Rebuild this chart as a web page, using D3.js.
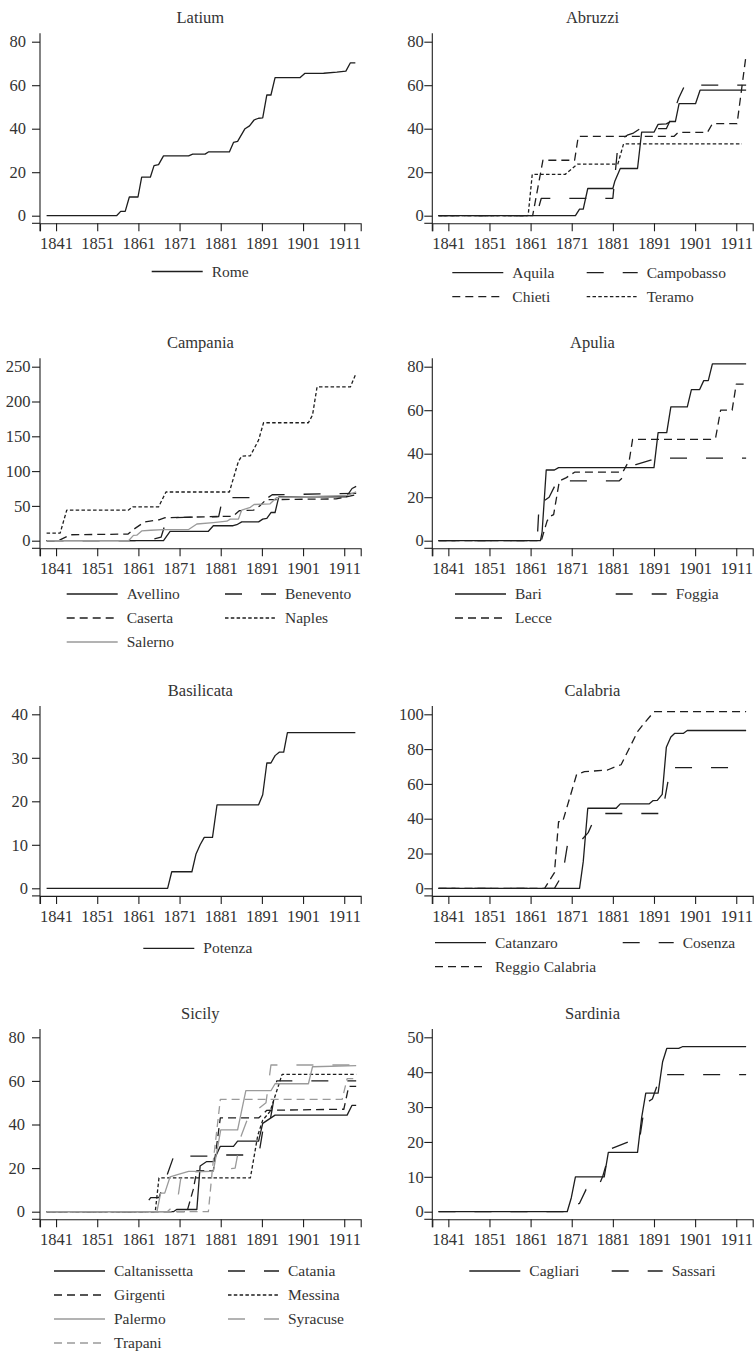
<!DOCTYPE html>
<html><head><meta charset="utf-8">
<script src="https://cdn.jsdelivr.net/npm/d3@7"></script>
<style>body{margin:0;background:#fff}</style>
</head><body><svg id="c" width="755" height="1351"></svg>
<script>
// ---------------- DATA ----------------
const xTickYears = [1841,1851,1861,1871,1881,1891,1901,1911];
const xDomain = [1837.1, 1915];

// Latium
const rome = [[1838.7,0],[1855.7,0],[1856.7,2],[1857.8,2],[1858.8,8.6],[1860.9,8.6],[1861.8,17.7],[1863.9,17.7],[1864.8,23],[1865.9,23.5],[1867.1,27.5],[1873.2,27.5],[1874.2,28.3],[1877.2,28.3],[1878,29.3],[1883.1,29.3],[1884.1,33.7],[1885.1,34.2],[1886.9,40],[1888,41.3],[1889.1,44],[1890.2,44.8],[1891.2,45],[1892.2,55.5],[1893.2,55.5],[1894.2,63.5],[1900.3,63.5],[1901.4,65.4],[1906,65.5],[1909.2,66],[1911.4,66.5],[1912.5,70.3],[1913.7,70.3]];
// Abruzzi
const aquila = [[1838.6,0],[1871.9,0],[1872.9,3],[1873.8,3],[1874.9,12.5],[1881,12.5],[1881.5,16],[1882.8,21.7],[1887,21.7],[1888,38.4],[1891,38.4],[1892,42],[1894,42.2],[1895,43.3],[1896.2,43.3],[1897.1,51.5],[1901.1,51.5],[1902.2,57.7],[1913.4,57.7]];
const campobasso = [[1838.6,0],[1862.4,0],[1863.6,8],[1881,8],[1882.3,34],[1884.5,37],[1886,38],[1887.6,40],[1894,40],[1895.5,46],[1897,54],[1898.5,60],[1913.4,60]];
const chieti = [[1838.6,0],[1861.5,0],[1864,25.5],[1871.7,25.5],[1872.6,36.5],[1895.9,36.5],[1896.9,38.3],[1904,38.3],[1905.2,42.3],[1911.2,42.3],[1913.4,74]];
const teramo = [[1838.6,0],[1860.4,0],[1861.4,19],[1869.4,19],[1872.4,23.7],[1882.2,23.7],[1883.6,33],[1912.4,33]];
// Campania
const avellino = [[1838.7,0],[1867.1,0],[1868.7,13.5],[1878,13.5],[1879.2,21.5],[1884,21.5],[1884.9,23],[1886.1,27],[1890.2,27],[1891.2,31],[1892.2,32],[1893.2,40.5],[1894.2,40.5],[1895.1,63],[1911.5,63],[1912.9,75],[1913.9,78]];
const benevento = [[1838.7,0],[1863,0],[1866.5,5],[1868,33],[1880.5,34.5],[1881.5,62],[1892.5,62],[1893.5,66],[1913.9,68]];
const caserta = [[1838.7,0],[1841.5,0],[1844.5,8.5],[1858.5,9.5],[1860,17],[1862.5,27],[1866,30],[1867.5,33],[1882,35],[1884,35],[1885.5,43],[1889,44],[1890.5,50],[1892,59],[1909,60],[1913.9,66]];
const naples = [[1838.7,11],[1842,11],[1843.6,44],[1858.6,44],[1859.6,48.5],[1865.9,48.5],[1867.7,70],[1883.1,70],[1885.3,114],[1886.1,121.5],[1888.2,122],[1890.2,144.6],[1891.4,169.5],[1902.3,169.5],[1903.3,180.5],[1904.4,221],[1912.5,221],[1913.9,241]];
const salerno = [[1838.7,0],[1858.6,0],[1859.8,7.7],[1860.6,8],[1861.8,14],[1864,15],[1867,16],[1873.2,16],[1875.2,24],[1879.2,26],[1882.5,28],[1883.3,31],[1885.3,31],[1886.1,44],[1888.2,48],[1889.1,52],[1893,53],[1894.6,62],[1900,63],[1911.7,65],[1913.9,70]];
// Apulia
const bari = [[1838.6,0],[1863.4,0],[1863.8,4],[1864.8,32.5],[1866.8,32.5],[1867.8,33.6],[1891,33.6],[1892,49.7],[1894.1,49.7],[1895.1,61.5],[1899.1,61.5],[1900.1,69.5],[1902.1,69.5],[1903.1,73.6],[1904.2,73.6],[1905.2,81.3],[1913.4,81.3]];
const foggia = [[1838.6,0],[1862.6,0],[1863.1,18],[1864,18],[1865.5,20],[1867.5,27.5],[1882.5,27.5],[1884,30],[1886.6,35],[1890.2,37],[1891,38],[1913.4,38]];
const lecce = [[1838.6,0],[1863.6,0],[1865,9],[1865.6,11],[1866.6,12],[1868,27.5],[1869.7,29],[1871.7,31.5],[1883.4,31.5],[1885,37],[1885.8,46.6],[1904.8,46.6],[1906,47.5],[1907.2,60],[1910,60],[1911,72],[1913.4,72]];
// Basilicata
const potenza = [[1838.7,0],[1868.1,0],[1869.1,3.8],[1874,3.8],[1875,7.9],[1876,10],[1877,11.7],[1879,11.7],[1880.1,19.2],[1890.2,19.2],[1891.2,21.5],[1892.2,28.8],[1893.2,28.8],[1894.2,30.5],[1895.2,31.3],[1896.3,31.3],[1897.2,35.8],[1913.7,35.8]];
// Calabria
const catanzaro = [[1838.6,0],[1872.9,0],[1873.8,15.3],[1874.9,46],[1881.8,46],[1882.8,48.5],[1889.8,48.5],[1890.8,50.4],[1891.8,50.5],[1893,54],[1894,81],[1895.1,87],[1896,89],[1898.1,89],[1899.1,90.7],[1913.4,90.7]];
const cosenza = [[1838.6,0],[1866.8,0],[1868.8,8],[1870,25.5],[1872.5,25.5],[1875,32],[1876.5,40],[1879,43],[1893,43],[1895,69.3],[1913.4,69.3]];
const reggioCalabria = [[1838.6,0],[1864.4,0],[1866.8,9],[1867.8,38.3],[1868.8,38.3],[1872.2,65.5],[1874.1,67],[1879.7,68],[1881.8,70],[1883,71],[1885,80.5],[1887,90],[1888.6,94.8],[1891,101.5],[1913.4,101.5]];
// Sicily
const caltanissetta = [[1838.7,0],[1869.5,0],[1870.3,1],[1875.2,1],[1876,21],[1877.6,23],[1879.2,23],[1880.9,30],[1884.1,30],[1885.1,32.4],[1890.2,32.4],[1891.2,40.5],[1894.2,44.3],[1911.7,44.3],[1912.9,48.8],[1913.9,48.8]];
const catania = [[1838.7,0],[1861.4,0],[1864,6.5],[1866,6.5],[1868,17],[1869.6,25.5],[1878.5,25.5],[1879.5,26],[1888,26],[1889.5,27],[1890.5,29],[1891.2,37],[1892.5,37.2],[1893.5,47],[1894.6,60],[1913.9,60]];
const girgenti = [[1838.7,0],[1872.8,0],[1874.3,10],[1875.2,18.8],[1879.2,18.8],[1880.9,43],[1890.2,43],[1892.2,46.5],[1910.9,47],[1912.1,57.5],[1913.9,57.5]];
const messina = [[1838.7,0],[1865.1,0],[1866,15.5],[1888.2,15.5],[1890,35],[1891.2,42],[1893,46],[1895.9,63],[1913.9,63]];
const palermo = [[1838.7,0],[1865.5,0],[1866.4,8.5],[1867.4,8.5],[1868.7,16],[1870.5,17],[1873.2,18.5],[1879.2,18.5],[1881,37.5],[1885.1,37.5],[1887.1,55.5],[1893.2,55.5],[1894.2,58.7],[1902.3,58.7],[1903.3,66.5],[1913.9,67]];
const syracuse = [[1838.7,0],[1868,0],[1869.5,2.5],[1870.3,2.5],[1871.5,18],[1878.5,18.5],[1880,19],[1884.5,20],[1886,35],[1888,45],[1890,47],[1892,50],[1893.2,67.3],[1913.9,67.3]];
const trapani = [[1838.7,0],[1878,0],[1879,20],[1880.9,51.5],[1910.5,51.5],[1911.7,61],[1913.9,61]];
// Sardinia
const cagliari = [[1838.6,0],[1869.9,0],[1870.9,4],[1871.9,10],[1878.9,10],[1879.9,17],[1887,17],[1888,27],[1889,34],[1892,34],[1893.1,43],[1894.1,46.8],[1897,46.8],[1897.9,47.3],[1913.4,47.3]];
const sassari = [[1838.6,0],[1870.9,0],[1871.8,2],[1872.9,2.4],[1874.5,6.4],[1877.2,6.4],[1878.5,10],[1880.5,18],[1884.8,20],[1887.4,20],[1888.8,31],[1890.6,32.3],[1892.7,39.3],[1913.4,39.3]];

const regionTitles = ["Latium","Abruzzi","Campania","Apulia","Basilicata","Calabria","Sicily","Sardinia"];
const regionYTicks = [[0,20,40,60,80],[0,20,40,60,80],[0,50,100,150,200,250],[0,20,40,60,80],[0,10,20,30,40],[0,20,40,60,80,100],[0,20,40,60,80],[0,10,20,30,40,50]];
const regionSeries = [
  [["Rome",rome,"solid"]],
  [["Aquila",aquila,"solid"],["Campobasso",campobasso,"longdash"],["Chieti",chieti,"dash"],["Teramo",teramo,"shortdash"]],
  [["Avellino",avellino,"solid"],["Benevento",benevento,"longdash"],["Caserta",caserta,"dash"],["Naples",naples,"shortdash"],["Salerno",salerno,"graySolid"]],
  [["Bari",bari,"solid"],["Foggia",foggia,"longdash"],["Lecce",lecce,"dash"]],
  [["Potenza",potenza,"solid"]],
  [["Catanzaro",catanzaro,"solid"],["Cosenza",cosenza,"longdash"],["Reggio Calabria",reggioCalabria,"dash"]],
  [["Caltanissetta",caltanissetta,"solid"],["Catania",catania,"longdash"],["Girgenti",girgenti,"dash"],["Messina",messina,"shortdash"],["Palermo",palermo,"graySolid"],["Syracuse",syracuse,"grayLongdash"],["Trapani",trapani,"grayDash"]],
  [["Cagliari",cagliari,"solid"],["Sassari",sassari,"longdash"]]
];

// ---------------- STYLES / LAYOUT ----------------
const BLACK = "#1e1e1e", GRAY = "#9a9a9a", TEXT = "#333";
const FONT = "'Liberation Serif','DejaVu Serif',serif";
const styles = {
  solid:{c:BLACK,d:null}, longdash:{c:BLACK,d:"17,19"}, dash:{c:BLACK,d:"8,5"}, shortdash:{c:BLACK,d:"3.5,2.3"},
  graySolid:{c:GRAY,d:null}, grayLongdash:{c:GRAY,d:"17,19"}, grayDash:{c:GRAY,d:"8,5"}
};
const cols = [{x0:40, x1:360.7},{x0:432.3, x1:752.7}];
const layout = [
  {col:0, top:41.7,  zero:215.7,  pad:6,   legY:271.5,  legX:[151.7]},
  {col:1, top:41.7,  zero:215.7,  pad:0.5, legY:272.7,  legX:[452.3,586.7]},
  {col:0, top:366.7, zero:540.7,  pad:1.5, legY:594,    legX:[66.7,225]},
  {col:1, top:366.7, zero:540.7,  pad:0.5, legY:594,    legX:[455,615.7]},
  {col:0, top:714.3, zero:888.3,  pad:4,   legY:948.3,  legX:[143.3]},
  {col:1, top:714.3, zero:888.3,  pad:0.5, legY:942.7,  legX:[435,622.7]},
  {col:0, top:1037.3,zero:1211.7, pad:7,   legY:1271,   legX:[54,228]},
  {col:1, top:1037.3,zero:1211.7, pad:0.5, legY:1271,   legX:[469.3,611.7]}
];
const TICK = 8, KEYW = 51, ROWGAP = 24;
const TICKFONT = 16.5, LEGFONT = 15.5, TITLEFONT = 16.5;

const svg = d3.select("#c");

regionTitles.forEach((title, i) => {
  const L = layout[i], C = cols[L.col];
  const yTicks = regionYTicks[i];
  const yMax = yTicks[yTicks.length-1];
  const x = d3.scaleLinear().domain(xDomain).range([C.x0, C.x1]);
  const y = d3.scaleLinear().domain([0, yMax]).range([L.zero, L.top]);
  const axisY = L.zero + 7.6;
  const g = svg.append("g");

  // title
  g.append("text").attr("x", (C.x0 + C.x1)/2).attr("y", L.top - 18.5)
    .attr("text-anchor","middle").attr("font-family",FONT).attr("font-size",TITLEFONT)
    .attr("fill",TEXT).text(title);

  // x axis
  const xa = g.append("g").attr("transform",`translate(0,${axisY})`)
    .call(d3.axisBottom(x).tickValues(xTickYears).tickFormat(d3.format("d"))
      .tickSize(TICK).tickSizeOuter(TICK).tickPadding(6));
  xa.selectAll("path,line").attr("stroke",BLACK).attr("stroke-width",1.1);
  xa.selectAll("text").attr("font-family",FONT).attr("font-size",TICKFONT).attr("fill",TEXT);

  // y axis
  const ya = g.append("g").attr("transform",`translate(${C.x0},0)`)
    .call(d3.axisLeft(y).tickValues(yTicks).tickFormat(d3.format("d"))
      .tickSize(TICK).tickSizeOuter(0).tickPadding(L.pad));
  ya.select(".domain").remove();
  ya.selectAll("line").attr("stroke",BLACK).attr("stroke-width",1.1);
  ya.selectAll("text").attr("font-family",FONT).attr("font-size",TICKFONT).attr("fill",TEXT);
  g.append("line").attr("x1",C.x0).attr("x2",C.x0).attr("y1",L.top-8.4).attr("y2",axisY+TICK)
    .attr("stroke",BLACK).attr("stroke-width",1.1);
  g.append("line").attr("x1",C.x0-TICK).attr("x2",C.x0).attr("y1",axisY).attr("y2",axisY)
    .attr("stroke",BLACK).attr("stroke-width",1.1);

  // lines
  const line = d3.line().x(d => x(d[0])).y(d => y(d[1]));
  regionSeries[i].forEach(([name, data, st]) => {
    const s = styles[st];
    g.append("path").datum(data).attr("d", line).attr("fill","none")
      .attr("stroke", s.c).attr("stroke-width",1.3)
      .attr("stroke-dasharray", s.d).attr("stroke-linejoin","round");
  });

  // legend
  regionSeries[i].forEach(([name, data, st], k) => {
    const s = styles[st];
    const nc = L.legX.length;
    const kx = L.legX[k % nc], ky = L.legY + Math.floor(k / nc) * ROWGAP;
    g.append("line").attr("x1",kx).attr("x2",kx+KEYW).attr("y1",ky).attr("y2",ky)
      .attr("stroke",s.c).attr("stroke-width",1.3).attr("stroke-dasharray",s.d);
    g.append("text").attr("x",kx+KEYW+9).attr("y",ky).attr("dy","0.33em")
      .attr("font-family",FONT).attr("font-size",LEGFONT).attr("fill",TEXT).text(name);
  });
});
</script>
</body></html>
